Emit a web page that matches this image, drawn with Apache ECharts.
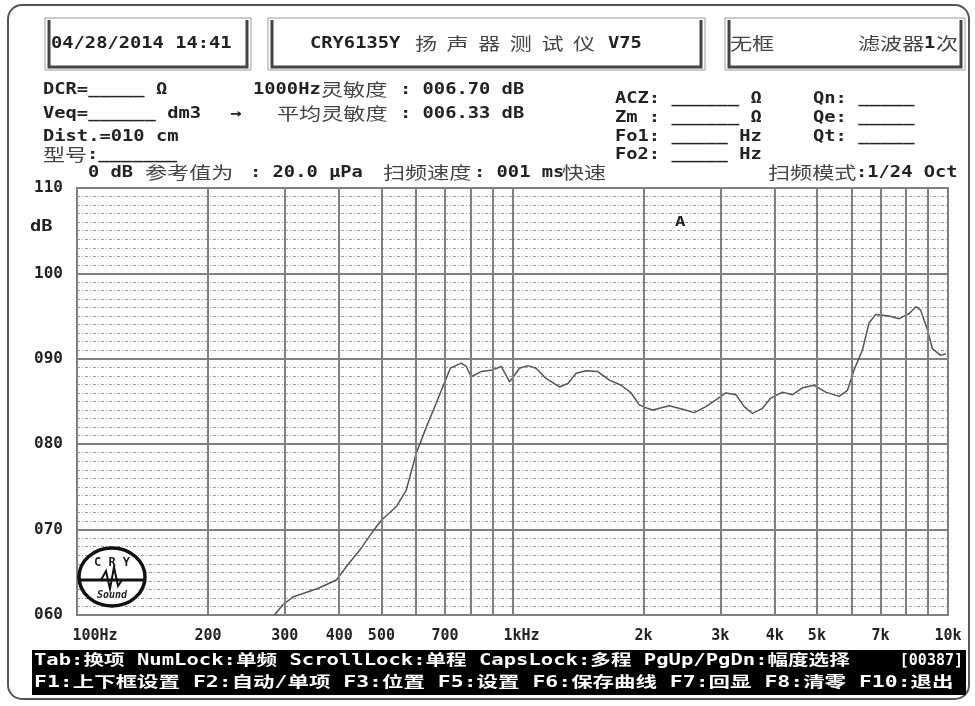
<!DOCTYPE html>
<html>
<head>
<meta charset="utf-8">
<title>CRY6135Y 扬声器测试仪</title>
<script src="https://cdn.jsdelivr.net/npm/echarts@6/dist/echarts.min.js"></script>
<style>
  html, body { margin: 0; padding: 0; background: #fff; }
  #main { width: 975px; height: 706px; }
</style>
</head>
<body>
<div id="main"></div>
<script>
const freqHz = [284, 297, 313, 357, 394, 416, 446, 478, 500, 541, 570, 601, 634, 668, 695, 720,
  762, 783, 804, 847, 901, 942, 985, 1038, 1084, 1133, 1194, 1282, 1340, 1400, 1476, 1570,
  1669, 1775, 1872, 1955, 2040, 2098, 2291, 2459, 2614, 2780, 2931, 3090, 3258, 3404, 3557,
  3750, 3918, 4168, 4395, 4634, 4930, 5240, 5623, 5875, 6085, 6359, 6587, 6823, 7322, 7722,
  8146, 8437, 8653, 8970, 9204, 9617, 9882];
const splDb = [60.0, 61.2, 62.1, 63.1, 64.1, 65.7, 67.6, 69.8, 71.1, 72.7, 74.6, 78.9, 82.0, 84.8, 87.0, 88.9,
  89.5, 89.1, 87.9, 88.5, 88.7, 89.1, 87.3, 88.9, 89.2, 88.9, 87.7, 86.7, 87.1, 88.3, 88.6, 88.5,
  87.5, 86.9, 86.0, 84.6, 84.2, 84.0, 84.5, 84.1, 83.7, 84.4, 85.2, 86.0, 85.8, 84.4, 83.6,
  84.2, 85.4, 86.1, 85.8, 86.6, 86.9, 86.1, 85.6, 86.3, 88.7, 91.0, 94.2, 95.2, 95.0, 94.7,
  95.3, 96.1, 95.7, 93.4, 91.2, 90.4, 90.6];

// frequency grid lines and the labelled ones
const gridFreqs = [100, 200, 300, 400, 500, 600, 700, 800, 900,
  1000, 2000, 3000, 4000, 5000, 6000, 7000, 8000, 9000, 10000];
const xTickValues = [100, 200, 300, 400, 500, 700, 1000, 2000, 3000, 4000, 5000, 7000, 10000];
const xTickLabels = ['    100Hz', '200', '300', '400', '500', '700', '  1kHz', '2k', '3k', '4k', '5k', '7k', '10k'];

const titleChars = ['扬', '声', '器', '测', '试', '仪'];

const MONO = "'DejaVu Sans Mono', 'Noto Sans CJK SC', monospace";
const CJK = "'Noto Sans CJK SC', sans-serif";

function mono(x, y, text, size) {
  return {
    type: 'text', x: x, y: y, scaleX: 1.25, z: 50,
    style: { text: text, font: 'bold ' + (size || 15) + 'px ' + MONO, fill: '#222', verticalAlign: 'middle' }
  };
}
function cjk(x, y, text, size) {
  return {
    type: 'text', x: x, y: y, scaleX: 1.3, z: 50,
    style: { text: text, font: (size || 17) + 'px ' + CJK, fill: '#444', verticalAlign: 'middle' }
  };
}
function box(x, y, w, h) {
  return [
    { type: 'rect', z: 40, shape: { x: x, y: y, width: w, height: h }, style: { fill: '#fff', stroke: '#999', lineWidth: 1 } },
    { type: 'polyline', z: 41, shape: { points: [[x + 4, y + 2], [x + 4, y + h - 3], [x + w - 4, y + h - 3], [x + w - 4, y + 2]] },
      style: { fill: null, stroke: '#444', lineWidth: 3 } }
  ];
}

const footRow1 = 'Tab:换项 NumLock:单频 ScrollLock:单程 CapsLock:多程 PgUp/PgDn:幅度选择';
const footRow2 = 'F1:上下框设置 F2:自动/单项 F3:位置 F5:设置 F6:保存曲线 F7:回显 F8:清零 F10:退出';

const graphics = [].concat(
  [{ type: 'rect', z: 30, shape: { x: 8, y: 5, width: 961, height: 694, r: 14 }, style: { fill: null, stroke: '#555', lineWidth: 2 } }],
  box(45, 18, 206, 52), box(268, 18, 437, 52), box(725, 18, 240, 52),
  titleChars.map((ch, i) => cjk(415 + i * 31.6, 44, ch)),
  [
    mono(51, 44, '04/28/2014 14:41'),
    mono(310, 44, 'CRY6135Y'),
    mono(608, 44, 'V75'),
    cjk(730, 44, '无框'),
    cjk(858, 44, '滤波器'),
    mono(924, 44, '1'),
    cjk(936, 44, '次'),

    mono(43, 90, 'DCR=_____ Ω'),
    mono(253, 90, '1000Hz'),
    cjk(321, 90, '灵敏度'),
    mono(400, 90, ': 006.70 dB'),
    mono(43, 114, 'Veq=______ dm3'),
    mono(230, 114, '→'),
    cjk(277, 114, '平均灵敏度'),
    mono(400, 114, ': 006.33 dB'),
    mono(43, 137, 'Dist.=010 cm'),
    cjk(43, 155, '型号'),
    mono(87, 155, ':_______'),
    mono(88, 173, '0 dB'),
    cjk(145, 173, '参考值为'),
    mono(250, 173, ': 20.0 μPa'),
    cjk(383, 173, '扫频速度'),
    mono(474, 173, ': 001 ms'),
    cjk(562, 173, '快速'),

    mono(615, 99, 'ACZ: ______ Ω'),
    mono(615, 118, 'Zm : ______ Ω'),
    mono(615, 137, 'Fo1: _____ Hz'),
    mono(615, 155, 'Fo2: _____ Hz'),
    mono(813, 99, 'Qn: _____'),
    mono(813, 118, 'Qe: _____'),
    mono(813, 137, 'Qt: _____'),
    cjk(768, 173, '扫频模式'),
    mono(856, 173, ':1/24 Oct'),

    mono(30, 227, 'dB'),
    mono(675, 222, 'A', 14),

    { type: 'rect', z: 40, shape: { x: 32, y: 650, width: 934, height: 45 }, style: { fill: '#000' } },
    { type: 'text', x: 34, y: 661, scaleX: 1.37, z: 50,
      style: { text: footRow1, font: 'bold 15px ' + MONO, fill: '#fff', verticalAlign: 'middle' } },
    { type: 'text', x: 963, y: 661, z: 50,
      style: { text: '[00387]', font: 'bold 15px ' + MONO, fill: '#fff', align: 'right', verticalAlign: 'middle' } },
    { type: 'text', x: 34, y: 683, scaleX: 1.43, z: 50,
      style: { text: footRow2, font: 'bold 15px ' + MONO, fill: '#fff', verticalAlign: 'middle' } },

    // CRY logo
    { type: 'ellipse', z: 60, shape: { cx: 112, cy: 577, rx: 33, ry: 29 }, style: { fill: '#fff', stroke: '#111', lineWidth: 3.5 } },
    { type: 'line', z: 61, shape: { x1: 81, y1: 580, x2: 143, y2: 580 }, style: { stroke: '#111', lineWidth: 3 } },
    { type: 'polyline', z: 61, shape: { points: [[101, 580], [106, 571], [110, 589], [114, 567], [118, 586], [122, 580]] },
      style: { fill: null, stroke: '#111', lineWidth: 2 } },
    { type: 'text', x: 112, y: 563, z: 62, style: { text: 'C R Y', font: 'bold 12px ' + MONO, fill: '#222', align: 'center', verticalAlign: 'middle' } },
    { type: 'text', x: 112, y: 595, z: 62, style: { text: 'Sound', font: 'italic bold 10px ' + MONO, fill: '#222', align: 'center', verticalAlign: 'middle' } }
  ]
);

const chart = echarts.init(document.getElementById('main'));

chart.setOption({
  animation: false,
  backgroundColor: '#fff',
  grid: { left: 77, top: 188, right: 27, bottom: 91, show: true, borderColor: '#777', borderWidth: 2 },
  xAxis: {
    type: 'log', logBase: 10, min: 100, max: 10000,
    axisLine: { show: false }, axisTick: { show: false }, axisLabel: { show: false },
    splitLine: { show: false }
  },
  yAxis: {
    type: 'value', min: 60, max: 110, interval: 10,
    axisLine: { show: false }, axisTick: { show: false },
    axisLabel: {
      margin: 14, color: '#222', fontFamily: 'DejaVu Sans Mono', fontWeight: 'bold', fontSize: 16,
      formatter: v => String(v).padStart(3, '0')
    },
    splitLine: { lineStyle: { color: '#808080', width: 2 } },
    minorTick: { show: false, splitNumber: 10 },
    minorSplitLine: { show: true, lineStyle: { color: '#9a9a9a', width: 1, type: [3, 2, 1, 2] } }
  },
  graphic: graphics,
  series: [{
    type: 'line',
    data: freqHz.map((f, i) => [f, splDb[i]]),
    showSymbol: false,
    clip: true,
    lineStyle: { color: '#555', width: 1.5 },
    markLine: {
      silent: true, symbol: 'none', animation: false,
      lineStyle: { color: '#808080', width: 2, type: 'solid' },
      label: { show: false },
      data: gridFreqs.map(f => {
        const k = xTickValues.indexOf(f);
        return {
          xAxis: f,
          label: k < 0 ? { show: false } : {
            show: true, position: 'start', distance: 14, formatter: xTickLabels[k],
            color: '#222', fontFamily: 'DejaVu Sans Mono', fontWeight: 'bold', fontSize: 15
          }
        };
      })
    }
  }]
});
</script>
</body>
</html>
